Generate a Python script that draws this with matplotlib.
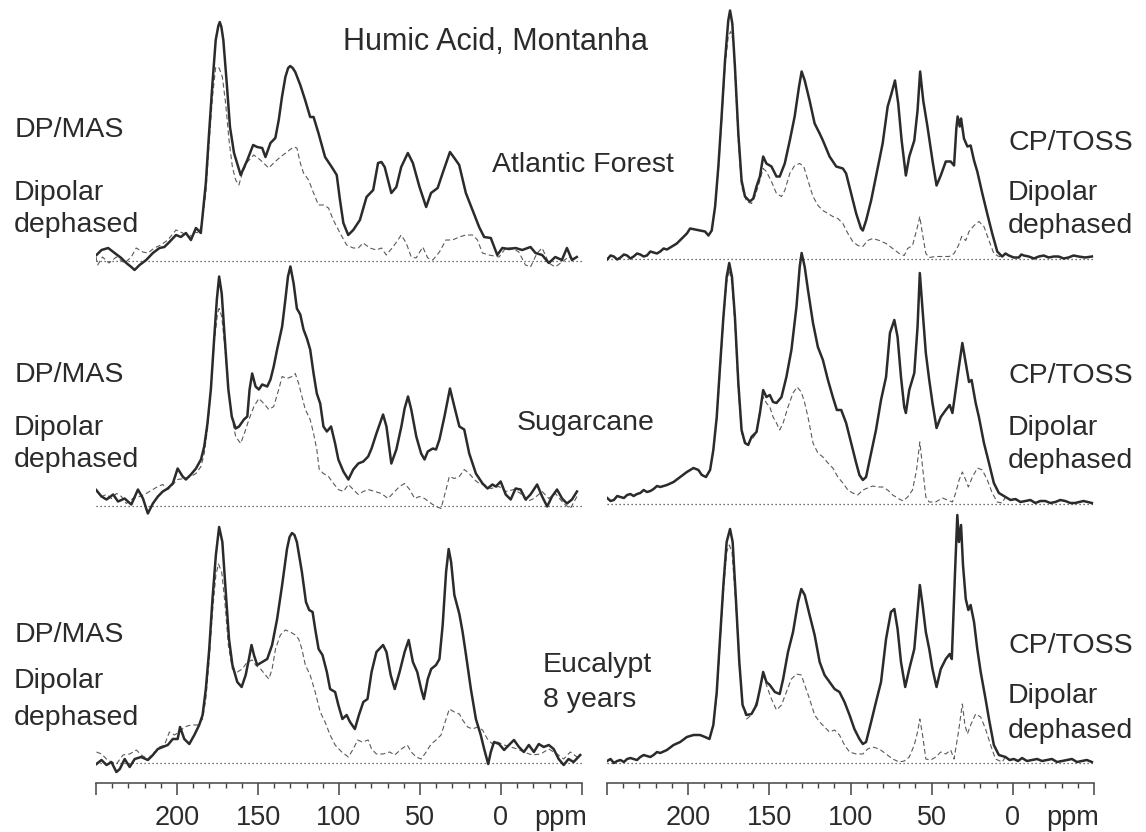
import numpy as np
import matplotlib.pyplot as plt
from matplotlib.ticker import FixedLocator, FixedFormatter, MultipleLocator

plt.rcParams['font.family'] = ['Liberation Sans', 'DejaVu Sans']

W, H = 1146, 832  # figure size in pixels

# spectra: (ppm, intensity) pairs, intensity in arbitrary units
# Atlantic Forest, DP/MAS
af_dp_full = [(249.7, 6), (246.6, 11), (242.5, 13), (238.5, 8), (234.4, 3), (231.3, -2), (228.2, -6),
              (226.2, -9), (223.1, -4), (219.0, 1), (214.9, 8), (210.8, 13), (207.8, 14), (204.7, 19),
              (200.6, 26), (197.6, 24), (194.5, 28), (191.4, 21), (188.3, 33), (185.3, 28), (184.3, 44),
              (182.2, 78), (180.2, 128), (178.1, 178), (176.1, 221), (174.5, 235), (173.6, 239),
              (172.6, 234), (171.4, 221), (169.3, 178), (167.3, 134), (164.8, 108), (160.7, 86),
              (156.6, 101), (153.0, 116), (150.5, 114), (147.4, 113), (145.4, 104), (142.3, 118),
              (139.3, 123), (137.2, 141), (135.2, 164), (133.1, 184), (131.4, 193), (130.1, 195),
              (128.6, 193), (127.0, 189), (123.9, 176), (120.9, 161), (117.8, 144), (115.7, 144),
              (112.7, 128), (108.6, 104), (104.5, 94), (101.4, 86), (99.4, 61), (97.3, 38), (94.3, 26),
              (91.2, 31), (87.1, 41), (83.0, 64), (78.9, 71), (75.9, 98), (73.8, 99), (71.8, 94),
              (67.7, 68), (64.6, 74), (61.6, 94), (57.5, 108), (54.4, 98), (50.3, 74), (46.2, 54),
              (43.2, 68), (39.1, 73), (36.0, 88), (31.5, 109), (28.8, 103), (25.8, 96), (21.7, 68),
              (17.6, 51), (13.5, 34), (10.4, 24), (6.3, 23), (2.3, 6), (-0.8, 13), (-4.9, 12),
              (-9.0, 13), (-13.1, 11), (-18.2, 14), (-21.3, 8), (-25.4, 6), (-29.5, -2), (-33.5, 4),
              (-37.6, 1), (-40.7, 13), (-43.8, 1), (-46.8, 4)]
af_dp_deph = [(250, 4), (249, -4), (246, 4), (242, -2), (237.4, 4), (232.3, -2), (228.2, 4), (225.2, 13),
              (221.1, 9), (218, 8), (214, 13), (210, 16), (205.7, 21), (200.6, 31), (196.5, 28),
              (192.4, 24), (189.4, 29), (186.3, 28), (184.3, 41), (182.2, 68), (180.2, 118),
              (178.1, 164), (176.1, 194), (174, 193), (172, 184), (170, 158), (167.9, 121), (165.8, 94),
              (163.8, 81), (161.8, 76), (159.7, 88), (156.6, 99), (152.6, 106), (148.5, 101),
              (143.4, 93), (140.3, 98), (136.2, 104), (132.1, 109), (128, 114), (126, 113),
              (123.9, 98), (121.9, 88), (118.8, 81), (115.7, 68), (112.7, 56), (109.6, 56),
              (106.5, 53), (103.5, 41), (99.4, 28), (95.3, 16), (91.2, 13), (88.1, 13), (85.1, 18),
              (81, 13), (76.9, 11), (73.8, 13), (70.8, 6), (66.7, 14), (63.6, 21), (61.6, 26),
              (58.5, 18), (55.4, 4), (52.4, 3), (48.3, 14), (45.2, 3), (42.1, 1), (38, 9), (34, 21),
              (29.9, 21), (25.8, 24), (21.7, 26), (17.6, 26), (14.5, 21), (11.5, 8), (7.4, 6),
              (1.2, 4), (-2.9, 13), (-7, 13), (-11, 9), (-15.1, -4), (-18.2, -6), (-22.3, 8),
              (-25.4, 13), (-29.5, -2), (-33.5, -6), (-37.6, -1), (-41.7, 4), (-46.8, 1)]

# Atlantic Forest, CP/TOSS (dephased listed only where it departs from the full trace)
af_cp_full = [(249.9, -1), (247.8, 3), (245.8, 2), (243.7, -1), (241.7, 1), (239.6, 4), (237.6, 3),
              (235.6, 0), (233.6, 2), (231.5, 5), (229.5, 4), (227.4, 2), (225.4, 3), (223.3, 7),
              (221.3, 6), (219.2, 5), (217.2, 7), (215.1, 10), (213.1, 9), (210.0, 12), (207.0, 15),
              (203.9, 20), (200.8, 25), (198.8, 30), (195.7, 29), (192.7, 28), (189.6, 27), (187.5, 23),
              (185.5, 28), (183.4, 52), (181.4, 92), (179.4, 142), (177.3, 198), (175.3, 238),
              (174.2, 248), (172.8, 235), (171.2, 192), (169.1, 125), (167.1, 78), (165.0, 62),
              (162.0, 57), (159.9, 60), (157.9, 72), (155.8, 82), (153.8, 102), (151.8, 95),
              (148.7, 92), (145.6, 82), (143.6, 82), (140.5, 95), (137.4, 118), (134.4, 142),
              (131.7, 172), (130.1, 187), (128.2, 178), (125.2, 158), (122.1, 135), (119.0, 125),
              (117.0, 118), (112.9, 102), (108.8, 92), (104.7, 90), (102.7, 85), (99.6, 65), (96.5, 45),
              (93.5, 30), (92.4, 28), (90.4, 38), (87.3, 58), (84.3, 82), (80.2, 115), (77.1, 152),
              (75.1, 163), (72.6, 178), (70.6, 155), (68.5, 118), (65.9, 83), (63.8, 102), (60.7, 118),
              (58.7, 148), (57.1, 187), (55.2, 158), (52.6, 132), (49.5, 98), (47.0, 73), (44.4, 83),
              (41.3, 97), (38.3, 97), (36.2, 93), (34.8, 130), (34.0, 142), (32.7, 132), (31.9, 140),
              (30.1, 120), (28.0, 112), (26.0, 113), (23.9, 98), (21.9, 87), (18.8, 65), (15.8, 45),
              (12.7, 25), (9.6, 7), (6.6, 2), (4.5, 5), (2.5, 3), (-0.6, 1), (-3.7, 1), (-5.2, 4),
              (-6.8, 3), (-9.8, 2), (-13.0, 0), (-16.0, 2), (-19.0, 3), (-22.1, 1), (-25.2, 2),
              (-28.2, 2), (-31.3, 0), (-34.3, 1), (-37.4, 3), (-40.5, 2), (-44.6, 1), (-48.7, 2)]
af_cp_deph = [(181.4, 88), (179.4, 138), (177.3, 192), (175.3, 222), (173.8, 227), (172.2, 218),
              (171.2, 185), (169.1, 118), (167.1, 72), (164.0, 57), (161.0, 55), (158.9, 62),
              (156.9, 72), (153.8, 90), (151.8, 87), (148.7, 77), (145.6, 65), (142.5, 62),
              (140.5, 68), (137.4, 85), (134.4, 93), (131.3, 95), (128.8, 92), (126.2, 78),
              (123.1, 62), (120.0, 53), (117.0, 48), (113.9, 45), (110.9, 42), (107.8, 40),
              (104.7, 35), (101.6, 25), (98.6, 17), (95.5, 13), (92.4, 12), (89.4, 18), (86.3, 20),
              (82.2, 18), (78.1, 15), (74.0, 10), (70.0, 5), (66.9, 3), (64.8, 10), (61.8, 13),
              (58.7, 32), (57.3, 42), (56.0, 28), (53.6, 5), (51.5, 1), (47.5, 2), (43.4, 2),
              (39.3, 2), (36.2, 5), (33.5, 13), (31.5, 22), (29.0, 18), (27.0, 27), (23.9, 33),
              (20.9, 37), (17.8, 32), (14.7, 18), (11.7, 5), (8.6, 2)]

# Sugarcane, DP/MAS
sc_dp_full = [(250.7, 17), (246.6, 9), (243.5, 6), (239.4, 11), (236.4, 4), (232.3, 7), (228.2, 1),
              (224.1, 16), (221.0, 7), (218.0, -8), (214.9, 2), (211.8, 9), (208.8, 14), (205.7, 17),
              (202.6, 22), (199.6, 37), (196.5, 29), (194.5, 26), (191.4, 31), (188.3, 37),
              (185.2, 46), (183.2, 59), (181.2, 82), (179.1, 116), (177.1, 166), (175.4, 206),
              (174.0, 229), (172.4, 212), (170.3, 162), (168.3, 116), (166.2, 89), (163.8, 77),
              (161.7, 79), (158.7, 86), (156.6, 89), (155.2, 116), (153.6, 132), (151.5, 119),
              (149.5, 116), (147.4, 121), (144.3, 119), (142.3, 126), (140.3, 139), (138.2, 156),
              (135.1, 179), (133.1, 206), (131.5, 229), (130.0, 239), (128.0, 222), (126.0, 197),
              (123.9, 191), (121.9, 176), (119.8, 167), (117.8, 156), (115.7, 132), (113.7, 112),
              (111.6, 102), (109.6, 79), (107.5, 74), (104.9, 79), (102.4, 62), (100.4, 46),
              (97.3, 34), (94.2, 26), (91.2, 36), (88.1, 42), (85.0, 44), (82.0, 49), (79.9, 57),
              (76.9, 72), (72.8, 91), (70.7, 79), (67.7, 42), (64.6, 56), (61.5, 79), (59.5, 97),
              (57.4, 109), (55.4, 96), (52.3, 69), (49.3, 52), (47.2, 46), (45.2, 54), (42.1, 57),
              (40.1, 56), (38.0, 66), (34.9, 89), (31.5, 117), (28.8, 99), (25.7, 79), (22.7, 76),
              (19.6, 52), (15.5, 32), (11.4, 22), (8.3, 17), (5.3, 21), (3.2, 19), (0.2, 24),
              (-2.9, 11), (-6.0, 6), (-9.0, 17), (-12.1, 16), (-15.2, 6), (-18.2, 11), (-22.3, 21),
              (-25.4, 9), (-28.5, -1), (-31.5, 9), (-34.6, 16), (-37.7, 7), (-40.7, 2), (-43.8, 6),
              (-46.9, 14)]
sc_dp_deph = [(249.7, 16), (246.6, 9), (243.5, 11), (240.5, 7), (237.4, 12), (234.3, 9), (231.3, 2),
              (227.2, 7), (223.1, 9), (219.0, 12), (214.9, 16), (211.8, 19), (208.8, 21), (205.7, 16),
              (202.6, 21), (199.6, 26), (195.5, 27), (191.4, 29), (188.3, 32), (185.2, 39),
              (183.2, 52), (181.2, 76), (179.1, 116), (177.1, 162), (175.0, 192), (174.0, 197),
              (172.4, 189), (170.3, 156), (168.3, 116), (166.2, 89), (163.8, 69), (160.7, 62),
              (158.0, 74), (155.6, 86), (152.5, 99), (149.5, 107), (146.4, 102), (143.3, 96),
              (140.3, 99), (137.2, 116), (135.1, 129), (132.1, 127), (129.0, 129), (127.0, 132),
              (124.9, 122), (122.9, 109), (120.8, 96), (117.8, 86), (115.7, 72), (113.7, 56),
              (112.2, 36), (109.6, 32), (106.5, 29), (103.4, 22), (100.4, 16), (97.3, 14), (94.2, 21),
              (91.2, 16), (88.1, 11), (85.0, 14), (82.0, 16), (77.9, 14), (73.8, 12), (69.7, 7),
              (65.6, 14), (62.6, 19), (59.5, 22), (56.4, 16), (53.3, 7), (50.3, 9), (47.2, 7),
              (43.1, 2), (40.1, -1), (37.0, -3), (33.9, 16), (31.9, 29), (28.8, 27), (25.7, 29),
              (22.7, 36), (19.6, 32), (16.5, 26), (13.5, 22), (10.4, 21), (6.3, 17), (1.2, 19),
              (-2.9, 14), (-8.0, 16), (-12.1, 12), (-16.2, 4), (-20.3, 7), (-25.4, 14), (-29.5, 7),
              (-33.6, 12), (-38.7, 2), (-42.8, -3), (-46.9, 9)]

# Sugarcane, CP/TOSS
sc_cp_full = [(249.9, 6), (247.8, 3), (245.8, 4), (243.7, 8), (241.7, 7), (239.6, 6), (237.6, 9),
              (235.6, 10), (233.6, 8), (231.5, 10), (229.5, 11), (227.4, 14), (225.4, 12), (223.3, 13),
              (221.3, 15), (219.2, 18), (217.2, 17), (213.1, 19), (209.0, 22), (204.9, 27), (200.8, 32),
              (196.7, 36), (193.7, 34), (191.6, 29), (189.0, 27), (186.5, 34), (184.5, 54), (182.4, 87),
              (180.4, 137), (178.3, 187), (176.3, 227), (174.7, 241), (173.0, 227), (171.2, 187),
              (169.1, 121), (167.1, 74), (165.0, 61), (163.0, 59), (161.0, 67), (157.9, 72),
              (155.8, 91), (153.8, 114), (151.8, 107), (149.7, 109), (147.7, 102), (145.6, 101),
              (142.5, 107), (139.5, 127), (136.4, 154), (133.3, 197), (131.3, 237), (130.1, 251),
              (128.2, 237), (126.2, 214), (123.1, 181), (120.1, 157), (117.0, 144), (113.9, 124),
              (110.9, 107), (108.4, 94), (105.7, 94), (102.7, 81), (99.6, 61), (96.5, 41), (94.5, 29),
              (92.4, 24), (90.4, 27), (87.3, 51), (84.3, 74), (81.2, 104), (78.1, 127), (75.7, 171),
              (73.0, 184), (71.0, 167), (68.9, 127), (66.9, 97), (65.9, 91), (63.8, 114), (60.7, 131),
              (58.7, 177), (57.3, 231), (55.6, 194), (53.6, 151), (51.5, 124), (49.5, 101),
              (47.0, 76), (44.4, 87), (41.3, 94), (38.9, 99), (37.2, 91), (35.2, 114), (33.5, 134),
              (31.1, 161), (29.0, 141), (27.0, 122), (25.4, 124), (22.9, 101), (20.9, 87),
              (17.8, 61), (14.7, 41), (11.7, 21), (8.6, 11), (4.5, 7), (1.4, 4), (-1.6, 5), (-4.7, 2),
              (-7.8, 3), (-10.8, 4), (-13.9, 1), (-17.0, 3), (-20.0, 3), (-23.1, 1), (-26.2, 2),
              (-29.2, 4), (-32.3, 3), (-35.4, 1), (-38.4, 1), (-43.5, 3), (-48.7, 1)]
sc_cp_deph = [(182.4, 84), (180.4, 131), (178.3, 184), (176.3, 222), (174.7, 234), (173.0, 221),
              (171.2, 181), (169.1, 114), (167.1, 71), (164.0, 59), (161.0, 64), (157.9, 71),
              (155.8, 94), (153.8, 107), (151.8, 101), (149.7, 97), (147.7, 87), (145.6, 81),
              (143.6, 74), (141.5, 81), (138.5, 97), (135.4, 111), (132.9, 117), (130.3, 112),
              (128.2, 101), (126.2, 87), (123.1, 61), (120.1, 51), (117.0, 47), (113.9, 41),
              (110.9, 36), (107.8, 27), (104.7, 21), (101.6, 14), (98.6, 11), (95.5, 9), (92.4, 14),
              (89.4, 16), (86.3, 18), (83.2, 17), (80.2, 17), (77.1, 14), (74.0, 9), (70.0, 5),
              (67.5, 3), (64.8, 7), (61.8, 14), (59.3, 34), (57.3, 62), (55.6, 37), (53.6, 7),
              (51.5, 2), (47.5, 2), (43.4, 6), (40.3, 4), (37.2, 2), (35.2, 11), (33.1, 24),
              (31.1, 32), (29.0, 24), (27.4, 17), (24.9, 27), (21.8, 36), (18.8, 34), (15.7, 24),
              (12.7, 11), (9.6, 2), (6.6, 1)]

# Eucalypt 8 years, DP/MAS
eu_dp_full = [(249.7, -1), (246.6, 3), (243.5, -2), (240.5, 1), (237.4, -9), (235.3, -6), (232.3, 4),
              (229.2, -4), (226.1, 4), (222.1, 6), (218.0, 3), (214.9, 8), (211.8, 14), (208.8, 16),
              (205.7, 18), (202.6, 24), (199.6, 24), (198.1, 36), (195.5, 24), (192.4, 19),
              (189.3, 28), (186.3, 38), (184.2, 48), (182.2, 74), (180.1, 114), (178.1, 164),
              (176.0, 208), (174.0, 236), (172.0, 221), (169.9, 171), (167.9, 124), (165.8, 98),
              (162.8, 81), (160.1, 76), (157.6, 88), (155.6, 104), (154.0, 118), (152.5, 108),
              (150.5, 98), (147.4, 101), (144.3, 104), (141.3, 118), (138.2, 144), (135.1, 178),
              (132.1, 214), (130.5, 226), (129.0, 230), (127.5, 228), (126.0, 221), (122.9, 191),
              (120.4, 161), (118.4, 153), (116.3, 151), (114.7, 134), (112.6, 114), (110.2, 108),
              (107.5, 91), (105.5, 74), (102.4, 71), (100.4, 58), (97.9, 44), (95.3, 48), (93.2, 41),
              (90.2, 34), (87.7, 48), (85.0, 61), (82.4, 64), (79.9, 91), (76.9, 111), (72.8, 118),
              (70.7, 111), (68.1, 88), (65.6, 74), (62.6, 91), (59.5, 111), (57.0, 123), (54.4, 101),
              (51.7, 91), (49.3, 74), (47.6, 64), (45.2, 84), (43.1, 94), (40.1, 98), (38.0, 104),
              (36.0, 138), (33.9, 191), (32.3, 214), (30.8, 201), (28.8, 168), (25.7, 149), (23.7, 131),
              (21.6, 108), (18.6, 74), (15.5, 44), (12.5, 28), (10.4, 14), (7.9, -1), (6.3, 11),
              (4.3, 21), (1.2, 19), (-1.9, 13), (-4.9, 18), (-8.0, 23), (-11.1, 16), (-14.1, 11),
              (-17.2, 18), (-20.3, 11), (-23.3, 19), (-26.4, 16), (-29.5, 18), (-32.5, 14), (-35.6, 4),
              (-38.7, -2), (-41.7, 4), (-44.8, 1), (-48.9, 8)]
eu_dp_deph = [(249.7, 11), (246.6, 9), (243.5, 4), (240.5, 1), (237.4, -1), (233.3, 8), (229.2, 9),
              (225.1, 13), (222.1, 8), (218.0, 4), (214.9, 9), (210.8, 16), (207.7, 18), (204.7, 31),
              (201.6, 28), (198.5, 31), (195.5, 36), (191.4, 38), (187.3, 38), (184.2, 44),
              (182.2, 64), (180.1, 104), (178.1, 151), (176.0, 188), (174.4, 199), (172.4, 191),
              (170.3, 158), (168.3, 118), (165.8, 94), (162.8, 91), (159.7, 94), (156.6, 101),
              (153.5, 103), (151.5, 98), (148.4, 94), (145.4, 88), (143.3, 84), (141.3, 94),
              (139.2, 114), (136.2, 128), (133.1, 133), (130.0, 131), (127.0, 128), (124.9, 124),
              (122.9, 114), (120.8, 98), (117.8, 88), (114.7, 71), (111.6, 51), (108.6, 41),
              (105.5, 28), (102.4, 18), (98.3, 11), (94.2, 6), (91.2, 14), (88.5, 23), (85.7, 21),
              (82.0, 23), (79.9, 14), (76.9, 9), (72.8, 9), (68.7, 11), (65.6, 8), (61.5, 14),
              (57.8, 18), (55.4, 11), (52.3, 6), (49.3, 4), (46.2, 11), (43.1, 19), (40.1, 23),
              (37.0, 28), (33.9, 44), (31.9, 54), (28.8, 51), (25.7, 49), (23.7, 43), (20.6, 36),
              (17.6, 34), (14.5, 36), (11.4, 33), (8.4, 24), (5.3, 19), (2.2, 21), (-1.9, 18),
              (-6.0, 16), (-10.1, 14), (-14.1, 11), (-19.2, 8), (-24.4, 9), (-29.5, 14), (-34.6, 9),
              (-38.7, 4), (-42.8, 11), (-46.9, 6)]

# Eucalypt 8 years, CP/TOSS
eu_cp_full = [(249.9, 2), (247.8, 4), (245.8, 0), (243.7, 2), (241.7, 3), (239.6, 1), (237.6, 4),
              (235.6, 5), (233.6, 4), (231.5, 3), (229.5, 6), (227.4, 8), (225.4, 7), (223.3, 6),
              (221.3, 8), (219.2, 11), (217.2, 10), (213.1, 13), (209.0, 18), (204.9, 21), (200.8, 26),
              (196.7, 28), (192.7, 28), (189.6, 26), (186.9, 24), (184.5, 38), (182.4, 71), (180.4, 124),
              (178.3, 178), (176.3, 221), (174.2, 234), (172.6, 221), (170.6, 164), (168.5, 101),
              (166.5, 58), (164.0, 48), (161.0, 49), (157.9, 58), (155.8, 74), (153.8, 91),
              (151.8, 81), (149.7, 78), (146.6, 71), (143.6, 69), (141.5, 84), (138.5, 111),
              (135.4, 131), (132.3, 161), (130.3, 174), (128.2, 168), (125.2, 148), (122.1, 128),
              (119.0, 101), (116.0, 88), (112.9, 81), (109.8, 74), (106.8, 71), (103.7, 61),
              (100.6, 48), (97.6, 34), (94.5, 24), (92.4, 19), (90.4, 21), (87.3, 41), (84.3, 61),
              (81.2, 81), (78.1, 124), (75.1, 151), (73.0, 154), (71.0, 134), (68.9, 101), (66.3, 76),
              (63.8, 94), (60.7, 114), (58.7, 151), (57.3, 178), (55.6, 158), (53.6, 131),
              (51.5, 114), (49.5, 94), (47.0, 76), (44.4, 94), (41.3, 104), (38.9, 109), (37.6, 104),
              (35.6, 191), (34.2, 248), (33.2, 221), (31.9, 238), (30.7, 198), (29.0, 164),
              (27.4, 153), (26.0, 158), (23.9, 141), (21.9, 114), (19.8, 91), (16.8, 64), (14.7, 44),
              (11.7, 18), (8.6, 8), (4.5, 6), (2.0, 3), (-0.6, 4), (-3.2, 2), (-5.7, 5), (-8.7, 2),
              (-11.8, 3), (-15.0, 4), (-18.0, 2), (-21.0, 3), (-24.1, 4), (-27.2, 1), (-30.3, 2),
              (-33.4, 3), (-36.4, 4), (-39.5, 1), (-42.5, 2), (-45.6, 3), (-48.7, 1)]
eu_cp_deph = [(182.4, 68), (180.4, 118), (178.3, 171), (176.3, 211), (174.7, 218), (173.0, 211),
              (170.6, 158), (168.5, 98), (166.5, 58), (164.0, 44), (161.0, 48), (157.9, 61),
              (155.8, 73), (153.8, 88), (151.8, 78), (148.7, 64), (145.6, 53), (142.5, 58),
              (139.5, 71), (136.4, 84), (133.3, 89), (130.3, 88), (128.2, 78), (125.2, 64),
              (122.1, 48), (119.0, 41), (116.0, 36), (112.9, 31), (109.8, 33), (106.8, 28),
              (103.7, 18), (100.6, 11), (96.5, 9), (92.4, 9), (89.4, 14), (86.3, 16), (82.2, 14),
              (78.1, 9), (74.0, 4), (70.0, 1), (66.9, 2), (63.8, 6), (60.7, 18), (58.7, 31),
              (57.3, 44), (55.6, 28), (53.6, 4), (50.5, 3), (47.5, 6), (44.4, 11), (41.3, 9),
              (38.3, 13), (36.2, 4), (33.5, 31), (31.1, 59), (29.5, 38), (28.0, 29), (26.0, 38),
              (22.9, 49), (19.8, 46), (16.8, 34), (13.7, 18), (10.7, 4), (6.6, 1)]

row_names = [["Atlantic Forest"], ["Sugarcane"], ["Eucalypt", "8 years"]]
left_label = "DP/MAS"
right_label = "CP/TOSS"
deph_lines = ["Dipolar", "dephased"]
tick_values = [250, 200, 150, 100, 50, 0, -50]
tick_labels = ["", "200", "150", "100", "50", "0", ""]

INK = "#2b2b2b"
FS = 20.5


def join_edges(mid, full):
    # dephased CP trace sits on top of the full trace at both ends
    mid = np.array(mid, float)
    full = np.array(full, float)
    hi = full[full[:, 0] > mid[0, 0]]
    lo = full[full[:, 0] < mid[-1, 0]]
    return np.vstack([hi, mid, lo])


def draw(ax, full, deph, base_px):
    y0 = H - base_px
    ax.axhline(y0, color="#444444", lw=0.9, ls=(0, (1, 2.2)), zorder=1)
    d = np.array(deph, float)
    ax.plot(d[:, 0], y0 + d[:, 1], color="#5a5a5a", lw=0.8, ls=(0, (4.5, 2.7)), zorder=2)
    f = np.array(full, float)
    ax.plot(f[:, 0], y0 + f[:, 1], color=INK, lw=1.8, zorder=3,
            solid_joinstyle="round")


fig = plt.figure(figsize=(W / 100, H / 100), dpi=100)
ax_l = fig.add_axes([96 / W, 0, 486 / W, 1])
ax_r = fig.add_axes([607 / W, 0, 487 / W, 1])

draw(ax_l, af_dp_full, af_dp_deph, 261)
draw(ax_l, sc_dp_full, sc_dp_deph, 505.5)
draw(ax_l, eu_dp_full, eu_dp_deph, 763)
draw(ax_r, af_cp_full, join_edges(af_cp_deph, af_cp_full), 258.5)
draw(ax_r, sc_cp_full, join_edges(sc_cp_deph, sc_cp_full), 504)
draw(ax_r, eu_cp_full, join_edges(eu_cp_deph, eu_cp_full), 763)

for ax in (ax_l, ax_r):
    ax.set_xlim(250, -50)
    ax.set_ylim(0, H)
    ax.patch.set_visible(False)
    for s in ("top", "left", "right"):
        ax.spines[s].set_visible(False)
    ax.spines["bottom"].set_position(("data", H - 783))
    ax.spines["bottom"].set_color("#444444")
    ax.spines["bottom"].set_linewidth(1.1)
    ax.set_yticks([])
    ax.xaxis.set_major_locator(FixedLocator(tick_values))
    ax.xaxis.set_major_formatter(FixedFormatter(tick_labels))
    ax.xaxis.set_minor_locator(MultipleLocator(10))
    ax.tick_params(axis="x", which="major", length=8.5, width=1.1, color="#444444",
                   labelsize=19.5, labelcolor=INK, pad=7)
    ax.tick_params(axis="x", which="minor", length=3.5, width=1.0, color="#444444")
    ax.text(-37, H - 825, "ppm", fontsize=19.5, color=INK, ha="center", va="baseline")


def label(x, y, s, size=FS):
    fig.text(x / W, 1 - y / H, s, fontsize=size, color=INK, va="baseline")


label(343, 50, "Humic Acid, Montanha", size=22)

# left column: method label baseline, then the two dephased-line baselines (pixels)
for y_mas, y_a, y_b in [(137, 200, 232), (382, 435, 467), (642, 688, 725)]:
    label(15, y_mas, left_label)
    label(14, y_a, deph_lines[0])
    label(14, y_b, deph_lines[1])

for y_cp, y_a, y_b in [(150, 200, 233), (383, 435, 468), (653, 703, 738)]:
    label(1008, y_cp, right_label)
    label(1008, y_a, deph_lines[0])
    label(1008, y_b, deph_lines[1])

for (x, ys), lines in zip([(492, [172]), (517, [430]), (543, [672, 707])], row_names):
    for y, s in zip(ys, lines):
        label(x, y, s)

fig.savefig("out.png", dpi=100)
